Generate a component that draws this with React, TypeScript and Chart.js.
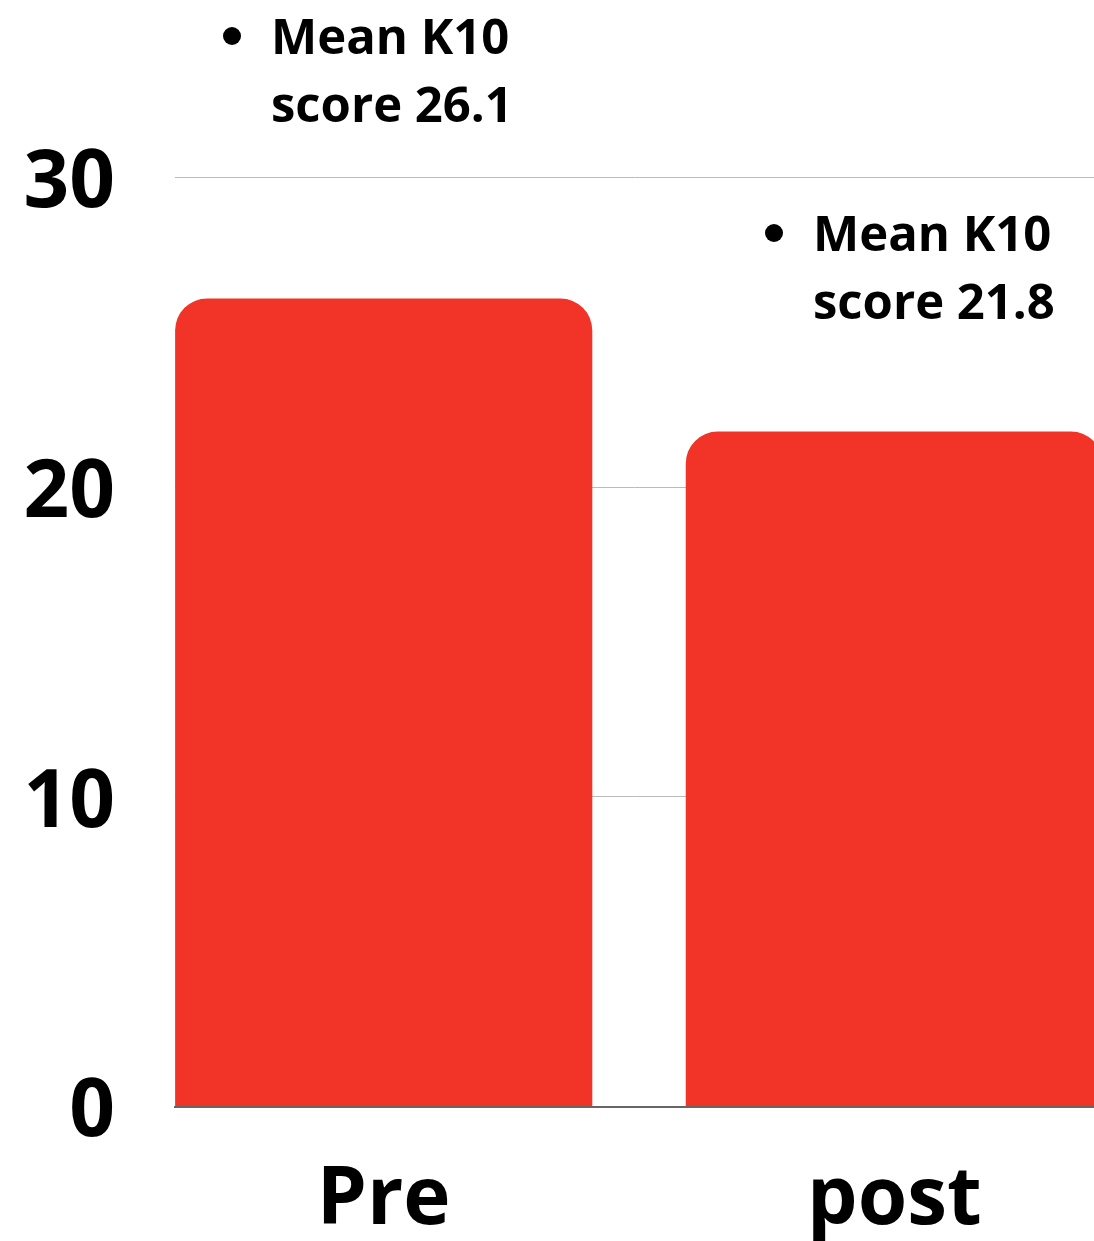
import React, { useEffect, useRef } from "react";
import { Chart, registerables } from "chart.js";

Chart.register(...registerables);

// ---- data ----
const categories = ["Pre", "post"];
const meanK10 = [26.1, 21.8];
const yTicks = [0, 10, 20, 30];
const noteLines = [
  ["Mean K10", "score 26.1"],
  ["Mean K10", "score 21.8"],
];

// ---- layout / style ----
const W = 1094;
const H = 1241;
const FONT = "'Open Sans', 'Noto Sans', sans-serif";
const BAR_COLOR = "#F13427";
const notePlacement = [
  { x: 271, y: 54 },
  { x: 813, y: 251 },
];

const notesPlugin = {
  id: "notes",
  afterDatasetsDraw(chart: any) {
    const ctx = chart.ctx as CanvasRenderingContext2D;
    ctx.save();
    ctx.fillStyle = "#000";
    ctx.font = `bold 49px ${FONT}`;
    ctx.textBaseline = "alphabetic";
    ctx.textAlign = "left";
    noteLines.forEach((lines, i) => {
      const p = notePlacement[i];
      lines.forEach((t, j) => ctx.fillText(t, p.x, p.y + j * 68));
      ctx.beginPath();
      ctx.arc(p.x - 39, p.y - 18, 9, 0, Math.PI * 2);
      ctx.fill();
    });
    ctx.restore();
  },
};

export default function App() {
  const ref = useRef<HTMLCanvasElement | null>(null);

  useEffect(() => {
    if (!ref.current) return;
    const chart = new Chart(ref.current, {
      type: "bar",
      data: {
        datasets: [
          {
            data: meanK10.map((v, i) => ({ x: i, y: v })),
            backgroundColor: BAR_COLOR,
            borderWidth: 0,
            borderRadius: 32,
            borderSkipped: "start",
            categoryPercentage: 1,
            barPercentage: 0.817,
          },
        ],
      },
      options: {
        animation: false,
        responsive: true,
        maintainAspectRatio: false,
        layout: { padding: { top: 177.7, bottom: 0, left: 0, right: 0 } },
        plugins: {
          legend: { display: false },
          tooltip: { enabled: false },
        },
        scales: {
          x: {
            type: "linear",
            offset: false,
            min: -0.4087,
            max: 1.391,
            grid: { display: false, drawTicks: false, offset: false },
            border: { display: true, color: "#666666", width: 2 },
            afterBuildTicks: (s: any) => {
              s.ticks = categories.map((_, i) => ({ value: i }));
            },
            afterFit: (s: any) => {
              s.height = 134.5;
            },
            ticks: {
              color: "#000",
              padding: 47,
              maxRotation: 0,
              autoSkip: false,
              font: { family: FONT, weight: "bold", size: 80 },
              callback: (v: any) => categories[v as number] ?? "",
            },
          },
          y: {
            min: 0,
            max: 30,
            grid: { color: "#bbbbbb", lineWidth: 1, drawTicks: false },
            border: { display: false },
            afterBuildTicks: (s: any) => {
              s.ticks = yTicks.map((v) => ({ value: v }));
            },
            afterFit: (s: any) => {
              s.width = 175;
            },
            ticks: {
              color: "#000",
              padding: 60,
              font: { family: FONT, weight: "bold", size: 80, lineHeight: "14px" },
              callback: (v: any) => ["", String(v)],
            },
          },
        },
      } as any,
      plugins: [notesPlugin],
    });
    return () => chart.destroy();
  }, []);

  return (
    <div style={{ position: "absolute", left: 0, top: 0, width: W, height: H }}>
      <canvas ref={ref} />
    </div>
  );
}
